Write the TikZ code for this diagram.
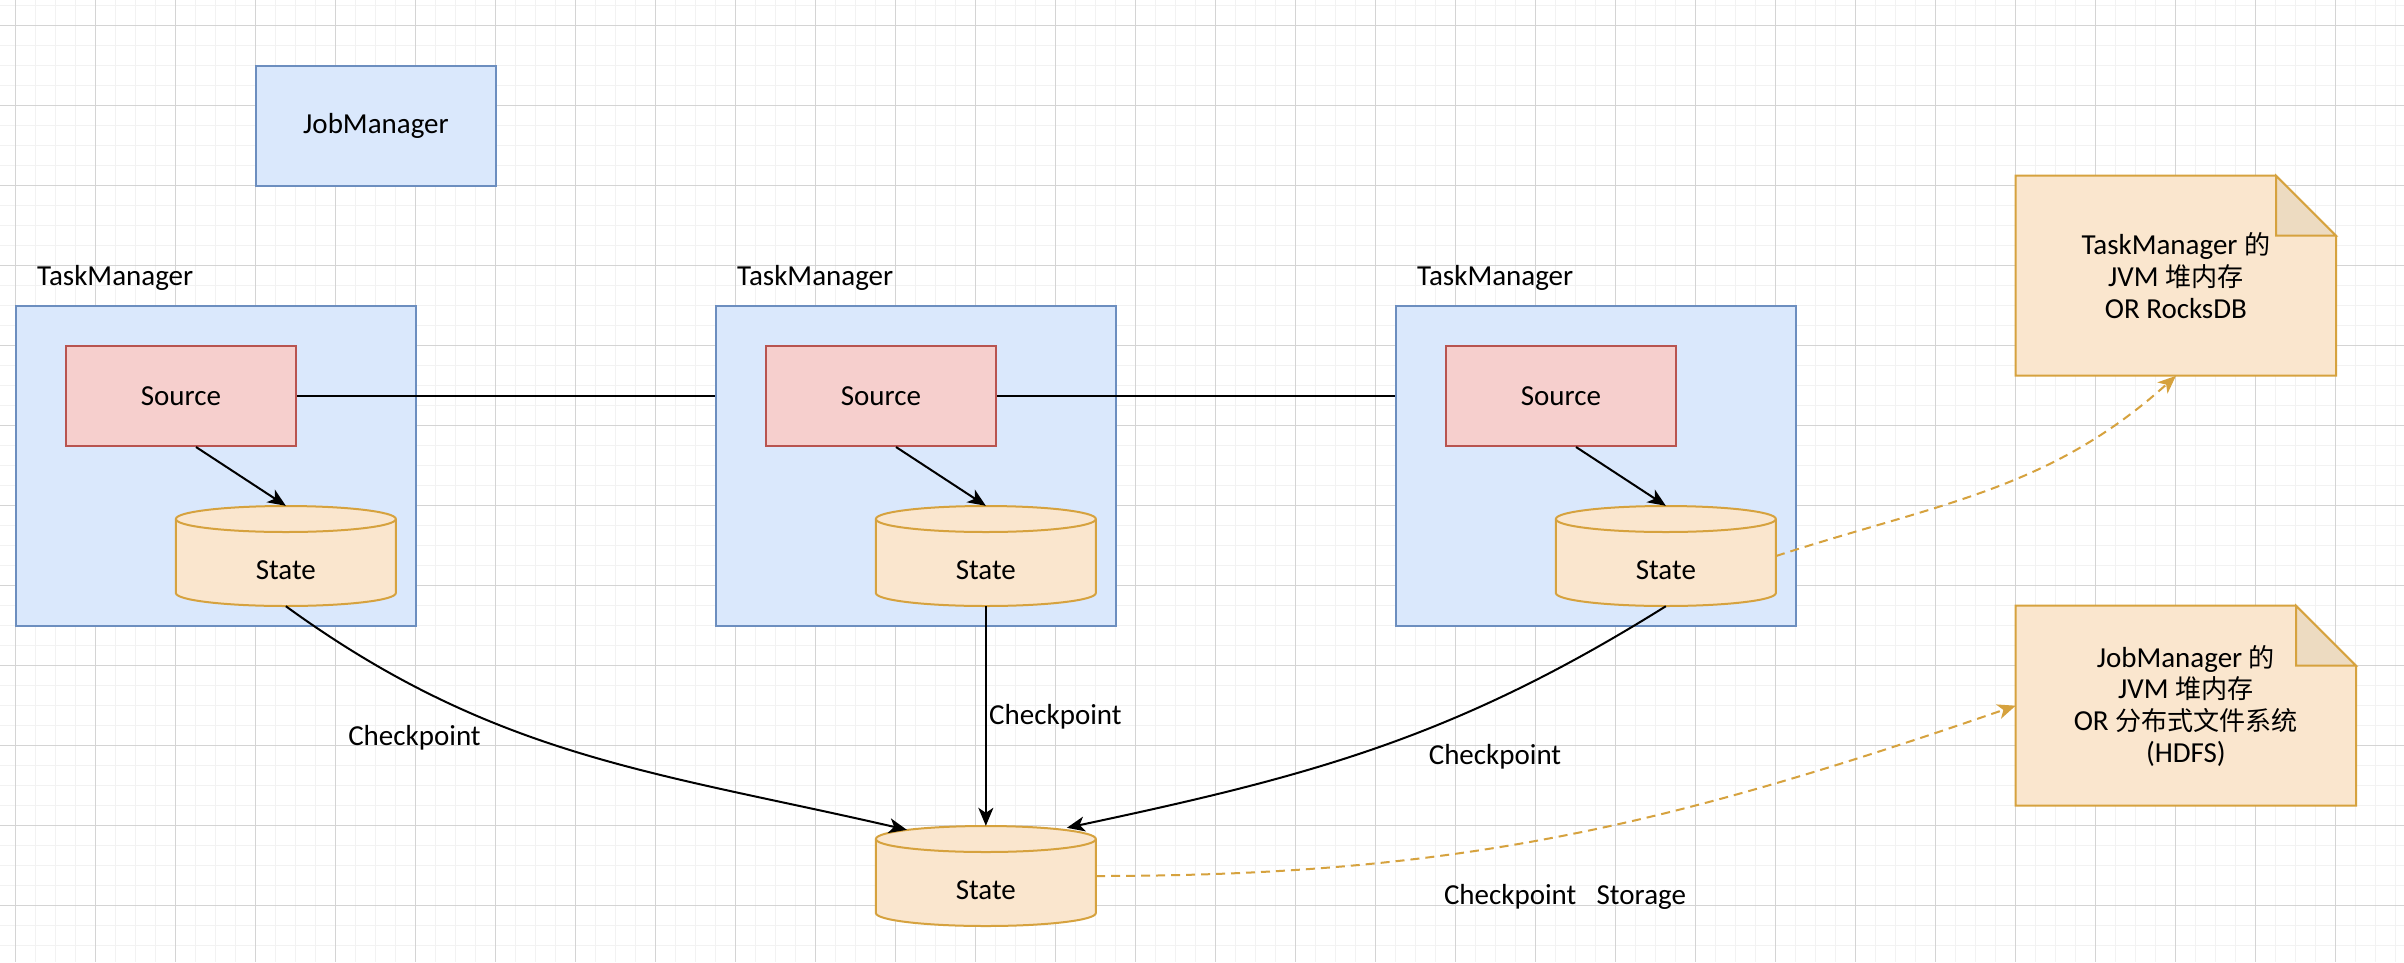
\documentclass[tikz,border=0pt]{standalone}
\usepackage{fontspec}
\setmainfont{Carlito}
\newfontfamily\cjk[Scale=0.9]{Noto Sans CJK SC}
\usetikzlibrary{arrows.meta,calc}
\definecolor{tmfill}{HTML}{DAE8FC}
\definecolor{tmdraw}{HTML}{6C8EBF}
\definecolor{srcfill}{HTML}{F6CFCD}
\definecolor{srcdraw}{HTML}{B85450}
\definecolor{cylfill}{HTML}{FAE6CE}
\definecolor{cyldraw}{HTML}{D6A23E}
\definecolor{foldfill}{HTML}{EDDBC1}
\definecolor{gridmajor}{HTML}{D4D4D4}
\definecolor{gridminor}{HTML}{F2F2F2}
\begin{document}
\begin{tikzpicture}[x=1pt,y=1pt,
  txt/.style={font=\fontsize{29pt}{31.7pt}\selectfont, inner sep=0pt},
  tmbox/.style={rectangle, draw=tmdraw, fill=tmfill, line width=2pt, minimum width=400pt, minimum height=320pt},
  srcbox/.style={txt, rectangle, draw=srcdraw, fill=srcfill, line width=2pt, minimum width=230.6pt, minimum height=100pt},
  jmbox/.style={txt, rectangle, draw=tmdraw, fill=tmfill, line width=2pt, minimum width=240pt, minimum height=120pt},
  cyltext/.style={txt, rectangle, minimum width=220pt, minimum height=100pt, text height=46pt, text depth=0pt},
  cylsty/.style={draw=cyldraw, fill=cylfill, line width=2pt},
  notesty/.style={draw=cyldraw, fill=cylfill, line width=2pt, line join=miter},
  foldsty/.style={draw=cyldraw, fill=foldfill, line width=2pt, line join=miter},
  notetext/.style={txt, align=center},
  plainline/.style={draw=black, line width=2pt},
  arr/.style={draw=black, line width=2pt, -{Stealth[length=18pt,width=15pt,inset=5pt]}},
  darr/.style={draw=cyldraw, line width=2pt, dash pattern=on 9pt off 6pt, -{Stealth[length=18pt,width=15pt,inset=5pt]}},
  dbcyl/.pic={
    \filldraw[cylsty] (-110,37) -- (-110,-37) arc[start angle=180,end angle=360,x radius=110pt,y radius=13pt] -- (110,37) arc[start angle=0,end angle=180,x radius=110pt,y radius=13pt] -- cycle;
    \draw[cylsty, fill=none] (-110,37) arc[start angle=180,end angle=360,x radius=110pt,y radius=13pt];
  }
]
\useasboundingbox (0,0) rectangle (2404,-962);
\fill[white] (0,0) rectangle (2404,-962);
% grid
\foreach \x in {15.7,35.7,...,2404} \draw[gridminor, line width=1.5pt] (\x,0) -- (\x,-962);
\foreach \y in {5.7,25.7,...,962} \draw[gridminor, line width=1.5pt] (0,-\y) -- (2404,-\y);
\foreach \x in {15.7,95.7,...,2404} \draw[gridmajor, line width=1pt] (\x,0) -- (\x,-962);
\foreach \y in {25.7,105.7,...,962} \draw[gridmajor, line width=1pt] (0,-\y) -- (2404,-\y);

% JobManager
\node[jmbox] (jm) at (376,-126) {JobManager};

% TaskManager labels and boxes
\node[txt, anchor=west] (tml1) at (37,-278) {TaskManager};
\node[txt, anchor=west] (tml2) at (737,-278) {TaskManager};
\node[txt, anchor=west] (tml3) at (1417,-278) {TaskManager};
\node[tmbox] (tm1) at (215.85,-466) {};
\node[tmbox] (tm2) at (915.85,-466) {};
\node[tmbox] (tm3) at (1595.85,-466) {};

% Sources
\node[srcbox] (src1) at (181,-396) {Source};
\node[srcbox] (src2) at (881,-396) {Source};
\node[srcbox] (src3) at (1561,-396) {Source};

% States
\pic at (285.85,-556) {dbcyl};
\node[cyltext] (st1) at (285.85,-556) {State};
\pic at (985.85,-556) {dbcyl};
\node[cyltext] (st2) at (985.85,-556) {State};
\pic at (1665.85,-556) {dbcyl};
\node[cyltext] (st3) at (1665.85,-556) {State};
\pic at (985.85,-876) {dbcyl};
\node[cyltext] (bot) at (985.85,-876) {State};

% Notes
\filldraw[notesty] (2015.7,-375.7) -- (2015.7,-175.7) -- (2276,-175.7) -- (2336,-235.7) -- (2336,-375.7) -- cycle;
\filldraw[foldsty] (2276,-175.7) -- (2276,-235.7) -- (2336,-235.7) -- cycle;
\node[notetext, minimum width=320pt, minimum height=200pt] (note1) at (2175.85,-275.7)
  {TaskManager {\cjk 的}\\JVM {\cjk 堆内存}\\OR RocksDB};
\filldraw[notesty] (2015.7,-805.7) -- (2015.7,-605.7) -- (2296,-605.7) -- (2356,-665.7) -- (2356,-805.7) -- cycle;
\filldraw[foldsty] (2296,-605.7) -- (2296,-665.7) -- (2356,-665.7) -- cycle;
\node[notetext, minimum width=340pt, minimum height=200pt] (note2) at (2185.85,-705.7)
  {JobManager {\cjk 的}\\JVM {\cjk 堆内存}\\OR {\cjk 分布式文件系统}\\(HDFS)};

% Connectors
\draw[plainline] (src1.east) -- (src1.east -| tm2.west);
\draw[plainline] (src2.east) -- (src2.east -| tm3.west);
\draw[arr] ([xshift=15pt]src1.south) -- (st1.north);
\draw[arr] ([xshift=15pt]src2.south) -- (st2.north);
\draw[arr] ([xshift=15pt]src3.south) -- (st3.north);
\draw[arr] (st1.south) to[out=-36,in=167] ([xshift=-79pt,yshift=-4pt]bot.north);
\draw[arr] (st2.south) -- (bot.north);
\draw[arr] (st3.south) to[out=212,in=12] ([xshift=81pt,yshift=-2pt]bot.north);
\draw[darr] (st3.east) to[out=18,in=222] (note1.south);
\draw[darr] (bot.east) to[out=0,in=199] (note2.west);

% Labels
\node[txt] (cp1) at (414.5,-738) {Checkpoint};
\node[txt, anchor=west] (cp2) at (989,-717) {Checkpoint};
\node[txt] (cp3) at (1495,-757) {Checkpoint};
\node[txt] (cps) at (1565,-897) {Checkpoint\hspace{0.7em}Storage};
\end{tikzpicture}
\end{document}
